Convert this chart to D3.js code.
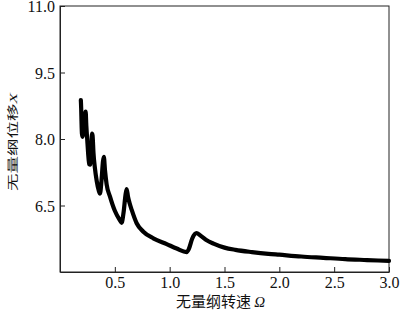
<!DOCTYPE html>
<html><head><meta charset="utf-8">
<script src="https://cdn.jsdelivr.net/npm/d3@7"></script>
<style>body{margin:0;background:#fff}svg{display:block}
.serif{font-family:"Liberation Serif","DejaVu Serif",serif}
.cjk{font-family:"Noto Sans CJK SC",sans-serif}
</style>
</head><body>
<svg id="c" width="400" height="311"></svg>
<script>
const omega = [0.190,0.193,0.196,0.200,0.205,0.215,0.226,0.234,0.240,0.248,0.256,0.266,0.275,0.284,0.292,0.297,0.305,0.318,0.335,0.352,0.365,0.378,0.392,0.400,0.410,0.425,0.456,0.500,0.545,0.562,0.580,0.598,0.608,0.620,0.635,0.654,0.699,0.760,0.851,0.973,1.064,1.155,1.175,1.205,1.230,1.245,1.277,1.330,1.400,1.500,1.600,1.750,1.900,2.000,2.200,2.400,2.600,2.800,3.000];
const disp  = [8.88,8.70,8.40,8.12,8.05,8.15,8.50,8.62,8.30,8.00,7.70,7.43,7.42,7.75,8.12,8.08,7.70,7.35,7.05,6.85,6.77,7.05,7.50,7.60,7.30,6.98,6.70,6.38,6.17,6.11,6.35,6.75,6.87,6.70,6.55,6.40,6.10,5.91,5.76,5.63,5.53,5.45,5.52,5.75,5.86,5.88,5.83,5.73,5.64,5.55,5.50,5.45,5.41,5.39,5.35,5.32,5.29,5.27,5.25];
const xTicks = [0.5,1.0,1.5,2.0,2.5,3.0];
const yTicks = [6.5,8.0,9.5,11.0];

const L=60,R=389,T=6,B=272;
const svg=d3.select("#c");
const x=d3.scaleLinear().domain([0,3]).range([L,R]);
const y=d3.scaleLinear().domain([5,11]).range([B,T]);

svg.append("rect").attr("x",L).attr("y",T).attr("width",R-L).attr("height",B-T)
  .attr("fill","none").attr("stroke","#222").attr("stroke-width",1);

const gx=svg.append("g").attr("transform",`translate(0,${B})`)
  .call(d3.axisBottom(x).tickValues(xTicks).tickFormat(d3.format(".1f")).tickSizeInner(-5).tickSizeOuter(0).tickPadding(5));
const gy=svg.append("g").attr("transform",`translate(${L},0)`)
  .call(d3.axisLeft(y).tickValues(yTicks).tickFormat(d3.format(".1f")).tickSizeInner(-5).tickSizeOuter(0).tickPadding(5));
[gx,gy].forEach(g=>{
  g.attr("font-family",null);
  g.select(".domain").attr("stroke","#222");
  g.selectAll(".tick line").attr("stroke","#222");
  g.selectAll("text").attr("class","serif").style("font-family",'"Liberation Serif","DejaVu Serif",serif').style("font-size","16px").attr("fill","#111");
});
gy.selectAll("text").attr("dy","0.35em");

const data=omega.map((o,i)=>[o,disp[i]]);
svg.append("path").datum(data)
  .attr("d",d3.line().x(d=>x(d[0])).y(d=>y(d[1])).curve(d3.curveMonotoneX))
  .attr("fill","none").attr("stroke","#000").attr("stroke-width",4.2)
  .attr("stroke-linejoin","round").attr("stroke-linecap","round");

const xl=svg.append("text").attr("x",(L+R)/2-4).attr("y",307).attr("text-anchor","middle")
  .style("font-size","15px").attr("fill","#111");
xl.append("tspan").attr("class","cjk").text("无量纲转速 ");
xl.append("tspan").attr("class","serif").attr("font-style","italic").text("Ω");

const yl=svg.append("text").attr("transform",`translate(16.5,142) rotate(-90) scale(1,0.62)`).attr("text-anchor","middle")
  .style("font-size","17.5px").attr("fill","#111");
yl.append("tspan").attr("class","cjk").text("无量纲位移");
yl.append("tspan").attr("class","serif").attr("font-style","italic").text("X");
</script>
</body></html>
